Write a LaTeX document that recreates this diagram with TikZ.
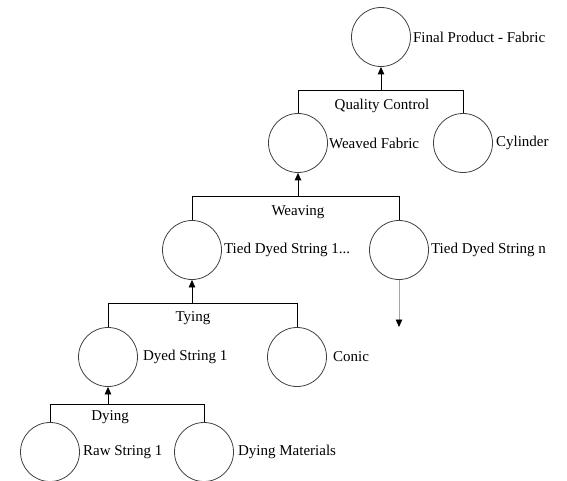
\documentclass[tikz,border=0pt]{standalone}
\usepackage{fontspec}
\setmainfont{Liberation Serif}
\usetikzlibrary{arrows.meta}
\begin{document}
\begin{tikzpicture}[x=1pt,y=-1pt,
  stage/.style={circle,draw=black!75,line width=0.8pt,minimum size=59pt,inner sep=0pt},
  lbl/.style={anchor=west,inner sep=0pt,font=\fontsize{15}{17}\selectfont},
  op/.style={inner sep=0pt,font=\fontsize{15}{17}\selectfont},
  link/.style={draw=black,line width=0.8pt},
  up/.style={link,-{Triangle[width=6.5pt,length=7.5pt]}},
  pending/.style={draw=black!35,line width=0.8pt,-{Triangle[width=6.5pt,length=7.5pt,color=black]}}]
\useasboundingbox (0,0) rectangle (567,481);

% process stages
\node[stage] (final) at (381,37) {};
\node[stage] (weaved) at (298,143) {};
\node[stage] (cyl) at (463,143) {};
\node[stage] (tds1) at (192,250) {};
\node[stage] (tdsn) at (399,250) {};
\node[stage] (ds1) at (108,357) {};
\node[stage] (conic) at (297,357) {};
\node[stage] (raw) at (50,452) {};
\node[stage] (dmat) at (204,452) {};

% stage names
\node[lbl] (final-l) at ([xshift=2pt]final.east) {Final Product - Fabric};
\node[lbl] (weaved-l) at ([xshift=1pt]weaved.east) {Weaved Fabric};
\node[lbl] (cyl-l) at ([xshift=3pt]cyl.east) {Cylinder};
\node[lbl] (tds1-l) at ([xshift=2pt]tds1.east) {Tied Dyed String 1...};
\node[lbl] (tdsn-l) at ([xshift=2pt]tdsn.east) {Tied Dyed String n};
\node[lbl] (ds1-l) at ([xshift=5pt]ds1.east) {Dyed String 1};
\node[lbl] (conic-l) at ([xshift=6pt]conic.east) {Conic};
\node[lbl] (raw-l) at ([xshift=3pt]raw.east) {Raw String 1};
\node[lbl] (dmat-l) at ([xshift=4pt]dmat.east) {Dying Materials};

% operations joining the stages
\coordinate (qc) at (381,90);
\node[op] (qc-l) at (382,106) {Quality Control};
\draw[link] (weaved.north) -- (weaved.north |- qc) -- (cyl.north |- qc) -- (cyl.north);
\draw[up] (qc) -- (final.south);

\coordinate (wv) at (298,196);
\node[op] (wv-l) at (298,212) {Weaving};
\draw[link] (tds1.north) -- (tds1.north |- wv) -- (tdsn.north |- wv) -- (tdsn.north);
\draw[up] (wv) -- (weaved.south);

\coordinate (ty) at (192,303);
\node[op] (ty-l) at (193,318) {Tying};
\draw[link] (ds1.north) -- (ds1.north |- ty) -- (conic.north |- ty) -- (conic.north);
\draw[up] (ty) -- (tds1.south);

\coordinate (dy) at (108,404);
\node[op] (dy-l) at (110,417) {Dying};
\draw[link] (raw.north) -- (raw.north |- dy) -- (dmat.north |- dy) -- (dmat.north);
\draw[up] (dy) -- (ds1.south);

% open end below the last tied string
\coordinate (tdsn-end) at (399,327);
\draw[pending] (tdsn.south) -- (tdsn-end);
\end{tikzpicture}
\end{document}
